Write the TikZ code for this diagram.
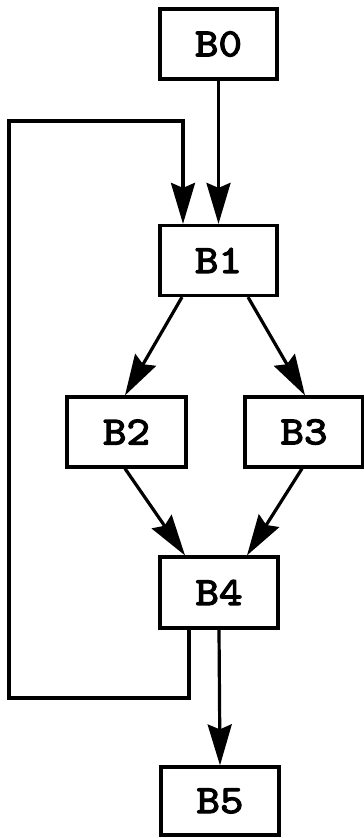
\documentclass[tikz,border=0pt]{standalone}
\usepackage{fontspec}
\newfontfamily\blkfont[FakeBold=3,FakeStretch=1.12]{lmmono10-regular.otf}
\usetikzlibrary{arrows.meta}
\tikzset{
  blk/.style={draw, line width=3.2pt, minimum width=117pt, minimum height=70pt, inner sep=0pt,
    font=\blkfont\fontsize{40}{40}\selectfont},
  arr/.style={line width=3.2pt, -{Stealth[length=41pt,width=24pt,inset=5pt]}},
  ln/.style={line width=3.2pt, line join=miter}
}
\begin{document}
\begin{tikzpicture}[x=1pt,y=-1pt]
\useasboundingbox (0,0) rectangle (364,838);
\node[blk] (B0) at (218.5,44) {B0};
\node[blk] (B1) at (218.5,260.5) {B1};
\node[blk, minimum width=119pt] (B2) at (126.5,432) {B2};
\node[blk, minimum width=118pt] (B3) at (304,432) {B3};
\node[blk, minimum width=118pt, minimum height=71pt] (B4) at (219,592.5) {B4};
\node[blk, minimum width=118pt, minimum height=68pt] (B5) at (220,801) {B5};
\coordinate (lb) at (9,698);
\coordinate (lt) at (9,121);
\draw[arr] (B0.south) -- (B1.north);
\draw[arr] ([xshift=-36.5pt]B1.south) -- ([xshift=-1.5pt]B2.north);
\draw[arr] ([xshift=29.5pt]B1.south) -- ([xshift=1pt]B3.north);
\draw[arr] ([xshift=-1.5pt]B2.south) -- ([xshift=-34pt]B4.north);
\draw[arr] ([xshift=-2pt]B3.south) -- ([xshift=28pt]B4.north);
\draw[arr] (B4.south) -- (B5.north);
\draw[ln, arr] ([xshift=-30pt]B4.south) |- (lb) -- (lt) -| ([xshift=-35.5pt]B1.north);
\end{tikzpicture}
\end{document}
